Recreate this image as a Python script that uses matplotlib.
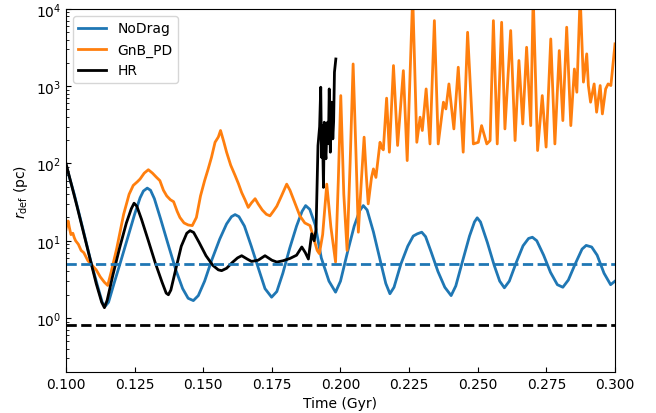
import matplotlib
matplotlib.use('Agg')
import matplotlib.pyplot as plt
import numpy as np

# NoDrag
t_nodrag = [0.1000, 0.1030, 0.1060, 0.1090, 0.1115, 0.1132, 0.1143, 0.1155, 0.1175,
            0.1200, 0.1225, 0.1250, 0.1270, 0.1282, 0.1296, 0.1308, 0.1322, 0.1345,
            0.1370, 0.1400, 0.1425, 0.1445, 0.1464, 0.1482, 0.1505, 0.1530, 0.1560,
            0.1585, 0.1603, 0.1616, 0.1630, 0.1650, 0.1675, 0.1700, 0.1725, 0.1749,
            0.1768, 0.1790, 0.1815, 0.1840, 0.1860, 0.1873, 0.1888, 0.1908, 0.1930,
            0.1958, 0.1982, 0.2000, 0.2025, 0.2050, 0.2070, 0.2083, 0.2097, 0.2120,
            0.2145, 0.2165, 0.2180, 0.2195, 0.2220, 0.2245, 0.2265, 0.2280, 0.2296,
            0.2310, 0.2330, 0.2355, 0.2380, 0.2403, 0.2420, 0.2445, 0.2470, 0.2488,
            0.2498, 0.2510, 0.2535, 0.2560, 0.2580, 0.2597, 0.2615, 0.2640, 0.2665,
            0.2685, 0.2699, 0.2715, 0.2740, 0.2765, 0.2790, 0.2810, 0.2830, 0.2855,
            0.2880, 0.2895, 0.2915, 0.2935, 0.2960, 0.2984, 0.3000]
r_nodrag = [95, 40, 15, 5.5, 2.6, 1.6, 1.42, 1.6, 2.8,
            5.5, 11, 22, 36, 44, 48, 45, 35, 19,
            9.5, 4.2, 2.4, 1.8, 1.68, 1.95, 3.0, 5.5, 10.5,
            16.5, 20.5, 21.8, 20.5, 15.5, 8.5, 4.5, 2.4, 1.86,
            2.2, 3.8, 8.0, 15.5, 24, 28.5, 25.5, 16, 6.0,
            3.0, 2.16, 3.0, 7.0, 15.5, 24.5, 28.5, 25, 13,
            5.5, 2.8, 2.06, 2.5, 5.0, 8.5, 11.5, 12.3, 12.9,
            11.3, 7.2, 4.0, 2.5, 1.95, 2.6, 5.5, 11.5, 17.5,
            19.8, 17.5, 9.5, 4.8, 3.0, 2.46, 3.0, 5.2, 8.6,
            10.7, 11.1, 10.0, 6.5, 3.9, 2.7, 2.5, 3.1, 5.0,
            7.8, 8.7, 8.3, 6.5, 3.8, 2.7, 3.0]

# GnB_PD
t_gnb = [0.1000, 0.1004, 0.1008, 0.1012, 0.1018, 0.1025, 0.1030, 0.1035, 0.1045,
         0.1055, 0.1065, 0.1080, 0.1095, 0.1110, 0.1125, 0.1140, 0.1152, 0.1165,
         0.1185, 0.1210, 0.1230, 0.1245, 0.1260, 0.1270, 0.1285, 0.1300, 0.1315,
         0.1330, 0.1342, 0.1355, 0.1367, 0.1380, 0.1392, 0.1405, 0.1415, 0.1430,
         0.1445, 0.1460, 0.1475, 0.1490, 0.1505, 0.1518, 0.1530, 0.1543, 0.1555,
         0.1563, 0.1575, 0.1585, 0.1600, 0.1616, 0.1628, 0.1640, 0.1652, 0.1664,
         0.1676, 0.1689, 0.1700, 0.1715, 0.1730, 0.1743, 0.1755, 0.1768, 0.1785,
         0.1804, 0.1816, 0.1828, 0.1840, 0.1852, 0.1870, 0.1889, 0.1903, 0.1915,
         0.1923, 0.1935, 0.1950, 0.1965, 0.1982, 0.1992, 0.2001, 0.2012, 0.2024,
         0.2035, 0.2046, 0.2056, 0.2065, 0.2076, 0.2086, 0.2094, 0.2101, 0.2113,
         0.2120, 0.2129, 0.2144, 0.2150, 0.2156, 0.2168, 0.2178, 0.2193, 0.2208,
         0.2229, 0.2243, 0.2263, 0.2278, 0.2290, 0.2298, 0.2312, 0.2326, 0.2342,
         0.2356, 0.2375, 0.2384, 0.2395, 0.2413, 0.2429, 0.2447, 0.2463, 0.2484,
         0.2502, 0.2514, 0.2533, 0.2545, 0.2557, 0.2571, 0.2587, 0.2599, 0.2620,
         0.2636, 0.2650, 0.2664, 0.2678, 0.2693, 0.2702, 0.2718, 0.2735, 0.2749,
         0.2766, 0.2781, 0.2797, 0.2810, 0.2824, 0.2839, 0.2852, 0.2861, 0.2873,
         0.2885, 0.2897, 0.2903, 0.2911, 0.2924, 0.2933, 0.2946, 0.2954, 0.2966,
         0.2975, 0.2985, 0.3000]
r_gnb = [14, 17, 18, 15, 12, 12.5, 11, 10, 9,
         7.5, 7, 5.5, 4.8, 4.2, 3.4, 2.9, 2.64, 4,
         8, 22, 40, 52, 58, 63, 75, 83, 75,
         66, 60, 45, 38, 34, 32, 24, 20, 17,
         16, 15.7, 20, 38, 60, 85, 120, 188, 220,
         267, 190, 140, 95, 70, 55, 42, 34, 27,
         31, 35, 30, 25, 22, 21, 24, 28, 38,
         54, 45, 35, 27, 21, 17, 15.7, 10.6, 7.5,
         6.8, 12, 54, 15, 5.3, 60, 756, 40, 7.5,
         100, 1940, 150, 12.9, 60, 219, 70, 30, 66,
         85, 66, 188, 160, 150, 700, 140, 1850, 171,
         1590, 109, 15000, 188, 397, 267, 922, 179, 7060,
         179, 621, 508, 1070, 280, 1760, 140, 4990, 179,
         188, 309, 179, 198, 7060, 179, 6720, 280, 5250,
         198, 2150, 325, 3190, 309, 15000, 147, 756, 163,
         4090, 179, 2890, 359, 5800, 309, 1670, 836, 15000,
         1130, 2620, 1020, 621, 1070, 461, 1020, 438, 922,
         1070, 1020, 3530]

# HR
t_hr = [0.1000, 0.1040, 0.1080, 0.1110, 0.1130, 0.1140, 0.1150, 0.1170, 0.1195,
        0.1220, 0.1238, 0.1248, 0.1258, 0.1275, 0.1300, 0.1325, 0.1350, 0.1365,
        0.1373, 0.1382, 0.1400, 0.1420, 0.1440, 0.1452, 0.1465, 0.1485, 0.1510,
        0.1535, 0.1555, 0.1567, 0.1585, 0.1605, 0.1625, 0.1640, 0.1660, 0.1676,
        0.1700, 0.1725, 0.1750, 0.1768, 0.1790, 0.1816, 0.1840, 0.1859, 0.1872,
        0.1883, 0.1890, 0.1895, 0.1904, 0.1911, 0.1918, 0.1924, 0.1928, 0.1931,
        0.1934, 0.1938, 0.1941, 0.1944, 0.1947, 0.1950, 0.1953, 0.1956, 0.1959,
        0.1963, 0.1966, 0.1968, 0.1972, 0.1975, 0.1978, 0.1983]
r_hr = [100, 28, 7.5, 2.8, 1.6, 1.36, 1.7, 3.5, 8.0,
        17, 26, 30.6, 28, 19, 10, 5.2, 2.9, 2.1,
        2.0, 2.3, 4.3, 8.5, 12.5, 13.5, 12.8, 9.5, 6.4,
        4.8, 4.2, 4.1, 4.4, 5.2, 6.0, 6.4, 5.8, 5.4,
        5.6, 6.4, 5.6, 5.3, 5.5, 5.9, 6.5, 8.3, 7,
        5.8, 9, 12.3, 10, 14, 170, 300, 970, 120,
        309, 49, 342, 150, 115, 260, 342, 180, 922,
        140, 400, 621, 208, 350, 1520, 2250]

r_hline_nodrag = 5.0
r_hline_hr = 0.8

plt.rcParams['font.size'] = 10
fig = plt.figure(figsize=(6.56, 4.14), dpi=100)
ax = fig.add_axes([0.1006, 0.099, 0.8369, 0.877])

ax.plot(t_nodrag, r_nodrag, color='tab:blue', lw=2, label='NoDrag')
ax.plot(t_gnb, r_gnb, color='tab:orange', lw=2, label='GnB_PD')
ax.plot(t_hr, r_hr, color='black', lw=2, label='HR')
ax.axhline(r_hline_nodrag, color='tab:blue', ls='--', lw=2)
ax.axhline(r_hline_hr, color='black', ls='--', lw=2)

ax.set_yscale('log')
ax.set_xlim(0.1, 0.3)
ax.set_ylim(0.2, 1e4)
ax.set_xticks(np.arange(0.1, 0.3001, 0.025))
ax.xaxis.set_major_formatter(matplotlib.ticker.FormatStrFormatter('%.3f'))
ax.tick_params(which='both', direction='in')
ax.set_xlabel('Time (Gyr)')
ax.set_ylabel(r'$r_{\rm def}$ (pc)')
ax.legend(loc='upper left')

fig.savefig('out.png', dpi=100)
